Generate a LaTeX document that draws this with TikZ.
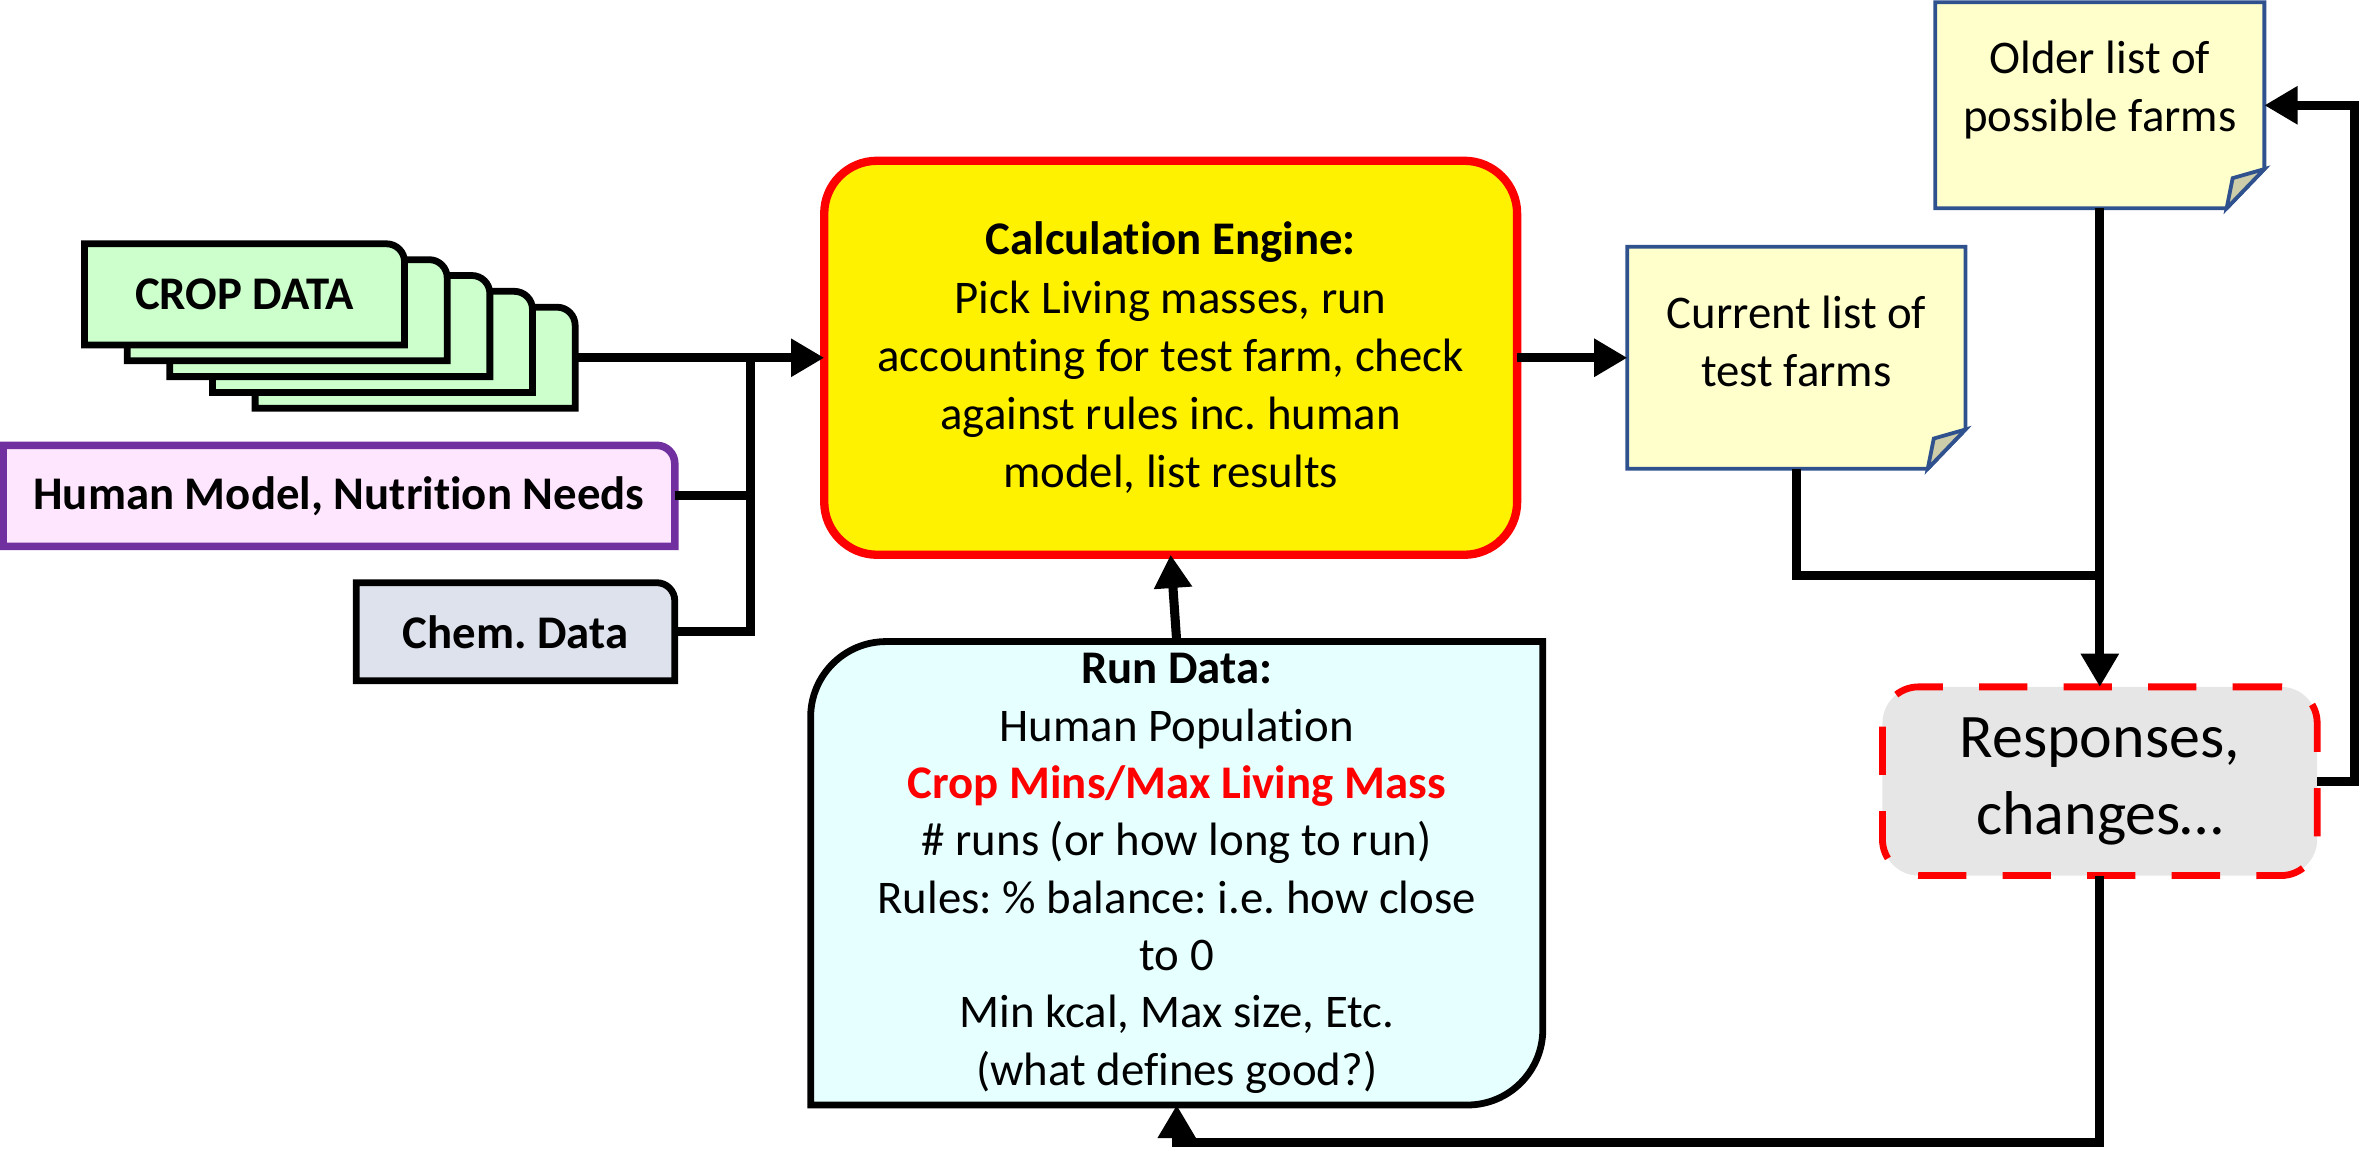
\documentclass[tikz,border=0pt]{standalone}
\usepackage{fontspec}
\setmainfont{Carlito}[Ligatures={NoCommon}]
\usetikzlibrary{arrows.meta,backgrounds}
\frenchspacing
\definecolor{cardgreen}{HTML}{CCFFCC}
\definecolor{hmfill}{HTML}{FFE6FF}
\definecolor{hmborder}{HTML}{7030A0}
\definecolor{chemfill}{HTML}{DEE2EC}
\definecolor{notefill}{HTML}{FFFFCC}
\definecolor{noteborder}{HTML}{2F528F}
\definecolor{flapfill}{HTML}{CDCDAA}
\definecolor{runfill}{HTML}{E6FFFF}
\definecolor{respfill}{HTML}{E6E6E6}
\newcommand\trbox[3]{%
  \path[#3] (#1.south west) -- (#1.north west) -- ([xshift=-#2]#1.north east)
    arc[start angle=90,end angle=0,radius=#2] -- (#1.south east) -- cycle;}
\newcommand\notebox[1]{%
  \path[notestyle] (#1.north west) -- (#1.north east) -- ([yshift=26pt]#1.south east)
    -- ([xshift=-25pt]#1.south east) -- (#1.south west) -- cycle;
  \path[notestyle,fill=flapfill] ([yshift=26pt]#1.south east) -- ([xshift=-25pt]#1.south east)
    -- ([xshift=-21pt,yshift=20pt]#1.south east) -- cycle;}
\begin{document}
\frenchspacing
\begin{tikzpicture}[x=1pt,y=-1pt,
  txt/.style={font=\fontsize{31}{38.5}\selectfont, align=center, inner sep=0pt, outer sep=0pt},
  bigtxt/.style={font=\fontsize{41}{51}\selectfont, align=center, inner sep=0pt, outer sep=0pt},
  shapenode/.style={inner sep=0pt, outer sep=0pt},
  conn/.style={line width=6pt, line join=miter},
  arr/.style={conn, -{Triangle[length=22pt,width=24pt]}},
  cardstyle/.style={draw=black, fill=cardgreen, line width=4.5pt, line join=miter},
  notestyle/.style={draw=noteborder, fill=notefill, line width=2.5pt, line join=miter}]
\useasboundingbox (0,0) rectangle (1568,768);

% CROP DATA stack
\foreach \k in {5,4,3,2,1}{
  \node[shapenode, minimum width=212pt, minimum height=67pt] (c\k)
    at ({162+28.25*(\k-1)},{195+10.5*(\k-1)}) {};
  \trbox{c\k}{12pt}{cardstyle}
}
\node[txt, font=\fontsize{31}{38.5}\selectfont\bfseries] (croptxt) at (c1) {CROP DATA};

% Human model
\node[txt, minimum width=445pt, minimum height=67pt] (hm) at (224.5,328.5) {\textbf{Human Model, Nutrition Needs}};
\begin{scope}[on background layer]
  \trbox{hm}{12pt}{draw=hmborder, fill=hmfill, line width=5pt, line join=miter}
\end{scope}

% Chem data
\node[txt, minimum width=211pt, minimum height=65pt] (chem) at (341.5,418.5) {\textbf{Chem. Data}};
\begin{scope}[on background layer]
  \trbox{chem}{12pt}{draw=black, fill=chemfill, line width=4.5pt, line join=miter}
\end{scope}

% Engine
\node[txt, draw=red, fill=yellow, line width=5.5pt, rounded corners=35pt,
      minimum width=459pt, minimum height=261pt] (eng) at (775.5,237)
  {\textbf{Calculation Engine:}\\Pick Living masses, run\\accounting for test farm, check\\against rules inc. human\\model, list results};

% Run data
\node[txt, font=\fontsize{31}{38}\selectfont, minimum width=485pt, minimum height=307pt] (run) at (779.5,578.5)
  {\textbf{Run Data:}\\Human Population\\\textcolor{red}{\textbf{Crop Mins/Max Living Mass}}\\\# runs (or how long to run)\\Rules: \% balance: i.e. how close\\to 0\\Min kcal, Max size, Etc.\\(what defines good?)};
\begin{scope}[on background layer]
  \path[draw=black, fill=runfill, line width=4.5pt, line join=miter]
    (run.north east) -- ([xshift=50pt]run.north west) arc[start angle=90,end angle=180,radius=50pt]
    -- (run.south west) -- ([xshift=-50pt]run.south east) arc[start angle=270,end angle=360,radius=50pt]
    -- cycle;
\end{scope}

% Notes
\node[shapenode, minimum width=224pt, minimum height=147pt] (cur) at (1190,237) {};
\notebox{cur}
\node[txt] (curtxt) at ([yshift=11pt]cur.center) {Current list of\\test farms};

\node[shapenode, minimum width=218pt, minimum height=136.5pt] (old) at (1391,69.75) {};
\notebox{old}
\node[txt] (oldtxt) at ([yshift=10pt]old.center) {Older list of\\possible farms};

% Responses
\node[bigtxt, draw=red, fill=respfill, line width=4.5pt, rounded corners=24pt,
      dash pattern=on 32pt off 24pt, minimum width=288pt, minimum height=125pt] (resp) at (1391,517.5)
  {Responses,\\changes…};

% connectors
\coordinate (bus) at (497,237);
\coordinate (join) at (1391,381);
\coordinate (botR) at (1391,757);
\draw[arr] (c5.east) -- (eng.west);
\draw[conn] (hm.east) -- (hm.east -| bus);
\draw[conn] (chem.east) -| (bus);
\draw[arr] (eng.east) -- (cur.west);
\draw[conn] (cur.south) |- (join);
\draw[arr] (old.south) -- (resp.north);
\draw[arr] (resp.east) -- ++(25,0) |- (old.east);
\draw[arr] (resp.south) -- (botR) -| (run.south);
\draw[arr] (run.north) -- (eng.south);
\end{tikzpicture}
\end{document}
